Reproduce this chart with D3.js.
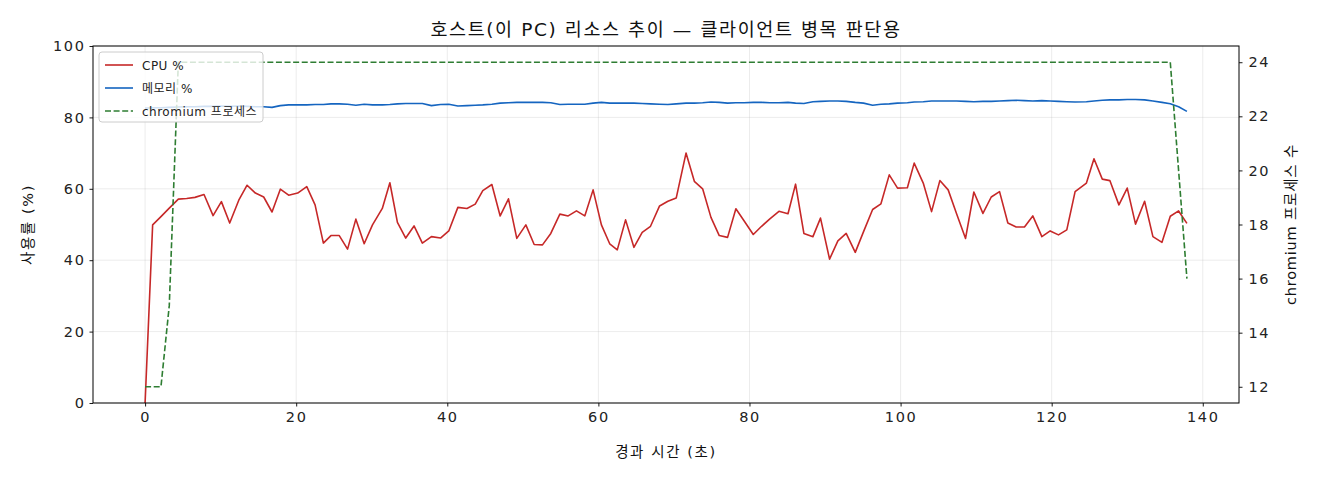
<!DOCTYPE html>
<html>
<head>
<meta charset="utf-8">
<script src="https://cdn.jsdelivr.net/npm/d3@7"></script>
<style>
  body { margin: 0; background: #fff; }
  text { font-family: "DejaVu Sans", "Noto Sans CJK KR", sans-serif; }
</style>
</head>
<body>
<script>
// elapsed seconds for each sample
const seconds = [
  0, 1.0, 2.1, 3.2, 4.4, 5.5, 6.6, 7.8, 9.0, 10.1,
  11.2, 12.4, 13.5, 14.6, 15.7, 16.8, 17.9, 19.0, 20.2, 21.4,
  22.5, 23.6, 24.6, 25.7, 26.8, 27.9, 29.0, 30.1, 31.4, 32.4,
  33.4, 34.5, 35.6, 36.7, 37.9, 39.1, 40.2, 41.4, 42.6, 43.7,
  44.7, 45.9, 47.0, 48.1, 49.2, 50.4, 51.5, 52.6, 53.7, 54.9,
  56.0, 57.1, 58.2, 59.3, 60.4, 61.5, 62.5, 63.6, 64.7, 65.8,
  66.9, 68.1, 69.2, 70.3, 71.6, 72.7, 73.8, 74.9, 76.0, 77.1,
  78.2, 79.3, 80.5, 81.6, 82.7, 83.9, 85.1, 86.1, 87.2, 88.4,
  89.4, 90.6, 91.7, 92.8, 94.0, 95.1, 96.3, 97.4, 98.5, 99.6,
  100.9, 101.8, 103.0, 104.1, 105.2, 106.3, 107.4, 108.6, 109.7, 110.9,
  112.0, 113.1, 114.2, 115.3, 116.4, 117.5, 118.7, 119.8, 120.9, 122.0,
  123.1, 124.6, 125.6, 126.7, 127.7, 128.9, 130.0, 131.1, 132.3, 133.4,
  134.6, 135.7, 136.8, 137.9
];

const cpuPct = [
  0, 49.9, 52.2, 54.6, 57.1, 57.3, 57.6, 58.4, 52.5, 56.4,
  50.4, 56.8, 61.0, 58.8, 57.7, 53.5, 59.9, 58.2, 58.8, 60.6,
  55.5, 44.8, 46.9, 46.9, 43.1, 51.5, 44.6, 49.9, 54.5, 61.7,
  50.6, 46.2, 49.6, 44.8, 46.6, 46.2, 48.2, 54.8, 54.5, 55.7,
  59.5, 61.2, 52.4, 57.2, 46.1, 49.9, 44.4, 44.3, 47.5, 52.9,
  52.4, 53.8, 52.4, 59.7, 49.9, 44.6, 42.9, 51.3, 43.6, 47.8,
  49.5, 55.2, 56.5, 57.4, 70.0, 62.1, 60.0, 52.0, 46.9, 46.4,
  54.4, 51.0, 47.2, 49.5, 51.6, 53.7, 53.0, 61.3, 47.5, 46.6,
  51.8, 40.3, 45.4, 47.5, 42.2, 48.0, 54.2, 55.8, 63.9, 60.2,
  60.3, 67.2, 61.6, 53.6, 62.3, 59.7, 53.1, 46.1, 59.1, 53.1,
  57.7, 59.2, 50.4, 49.3, 49.3, 52.4, 46.6, 48.2, 47.1, 48.5,
  59.2, 61.6, 68.4, 62.7, 62.3, 55.5, 60.2, 50.1, 56.5, 46.6,
  45.0, 52.3, 53.8, 50.3
];

const memPct = [
  82.6, 82.7, 82.7, 82.8, 82.9, 83.0, 83.0, 83.1, 83.1, 83.2,
  83.1, 83.2, 83.1, 83.0, 83.0, 82.8, 83.3, 83.5, 83.5, 83.5,
  83.6, 83.6, 83.8, 83.8, 83.7, 83.4, 83.7, 83.5, 83.5, 83.6,
  83.8, 83.9, 83.9, 83.9, 83.3, 83.6, 83.7, 83.2, 83.3, 83.4,
  83.5, 83.7, 84.0, 84.1, 84.2, 84.2, 84.2, 84.2, 84.1, 83.6,
  83.7, 83.7, 83.7, 84.0, 84.2, 84.0, 84.0, 84.0, 84.0, 83.9,
  83.8, 83.7, 83.6, 83.8, 84.0, 84.0, 84.1, 84.3, 84.2, 84.0,
  84.1, 84.1, 84.2, 84.2, 84.1, 84.1, 84.2, 84.0, 83.9, 84.4,
  84.5, 84.6, 84.6, 84.5, 84.2, 84.0, 83.4, 83.7, 83.8, 84.0,
  84.1, 84.3, 84.4, 84.6, 84.6, 84.6, 84.6, 84.5, 84.4, 84.5,
  84.5, 84.6, 84.7, 84.8, 84.7, 84.6, 84.7, 84.6, 84.5, 84.4,
  84.3, 84.4, 84.6, 84.8, 84.9, 84.9, 85.0, 85.0, 84.9, 84.6,
  84.2, 83.8, 83.0, 81.7
];

const chromiumProcs = [
  12, 12, 12, 15, 24, 24, 24, 24, 24, 24,
  24, 24, 24, 24, 24, 24, 24, 24, 24, 24,
  24, 24, 24, 24, 24, 24, 24, 24, 24, 24,
  24, 24, 24, 24, 24, 24, 24, 24, 24, 24,
  24, 24, 24, 24, 24, 24, 24, 24, 24, 24,
  24, 24, 24, 24, 24, 24, 24, 24, 24, 24,
  24, 24, 24, 24, 24, 24, 24, 24, 24, 24,
  24, 24, 24, 24, 24, 24, 24, 24, 24, 24,
  24, 24, 24, 24, 24, 24, 24, 24, 24, 24,
  24, 24, 24, 24, 24, 24, 24, 24, 24, 24,
  24, 24, 24, 24, 24, 24, 24, 24, 24, 24,
  24, 24, 24, 24, 24, 24, 24, 24, 24, 24,
  24, 24, 20, 16
];

const xTicks = [0, 20, 40, 60, 80, 100, 120, 140];
const yTicks = [0, 20, 40, 60, 80, 100];
const y2Ticks = [12, 14, 16, 18, 20, 22, 24];

const seriesNames = ['CPU %', '메모리 %', 'chromium 프로세스'];

const width = 1320;
const height = 480;
const plot = { left: 93, right: 1239, top: 46, bottom: 403 };

const svg = d3.select('body')
  .append('svg')
  .attr('width', width)
  .attr('height', height);

// matplotlib-style 5% padding around the time range
const tMax = d3.max(seconds);
const pad = tMax * 0.05;
const x = d3.scaleLinear().domain([-pad, tMax + pad]).range([plot.left, plot.right]);
const y = d3.scaleLinear().domain([0, 100]).range([plot.bottom, plot.top]);
const pMin = d3.min(chromiumProcs), pMax = d3.max(chromiumProcs);
const pPad = (pMax - pMin) * 0.05;
const y2 = d3.scaleLinear().domain([pMin - pPad, pMax + pPad]).range([plot.bottom, plot.top]);

// grid
const grid = svg.append('g').attr('stroke', '#b0b0b0').attr('stroke-opacity', 0.3).attr('stroke-width', 0.8);
grid.selectAll('.gx').data(xTicks).enter().append('line')
  .attr('x1', d => x(d)).attr('x2', d => x(d))
  .attr('y1', plot.top).attr('y2', plot.bottom);
grid.selectAll('.gy').data(yTicks).enter().append('line')
  .attr('x1', plot.left).attr('x2', plot.right)
  .attr('y1', d => y(d)).attr('y2', d => y(d));

// lines
const rows = seconds.map((t, i) => ({ t, cpu: cpuPct[i], mem: memPct[i], proc: chromiumProcs[i] }));

svg.append('path')
  .datum(rows)
  .attr('fill', 'none')
  .attr('stroke', '#c62828')
  .attr('stroke-width', 1.6)
  .attr('stroke-linejoin', 'round')
  .attr('d', d3.line().x(d => x(d.t)).y(d => y(d.cpu)));

svg.append('path')
  .datum(rows)
  .attr('fill', 'none')
  .attr('stroke', '#1565c0')
  .attr('stroke-width', 1.6)
  .attr('stroke-linejoin', 'round')
  .attr('d', d3.line().x(d => x(d.t)).y(d => y(d.mem)));

svg.append('path')
  .datum(rows)
  .attr('fill', 'none')
  .attr('stroke', '#2e7d32')
  .attr('stroke-width', 1.6)
  .attr('stroke-dasharray', '6,2.6')
  .attr('d', d3.line().x(d => x(d.t)).y(d => y2(d.proc)));

// axes
const fmt = d3.format('d');
const xAxis = svg.append('g')
  .attr('transform', `translate(0,${plot.bottom})`)
  .call(d3.axisBottom(x).tickValues(xTicks).tickFormat(fmt).tickSizeInner(3.5).tickSizeOuter(0).tickPadding(5));
const yAxis = svg.append('g')
  .attr('transform', `translate(${plot.left},0)`)
  .call(d3.axisLeft(y).tickValues(yTicks).tickFormat(fmt).tickSizeInner(3.5).tickSizeOuter(0).tickPadding(4));
const y2Axis = svg.append('g')
  .attr('transform', `translate(${plot.right},0)`)
  .call(d3.axisRight(y2).tickValues(y2Ticks).tickFormat(fmt).tickSizeInner(3.5).tickSizeOuter(0).tickPadding(6));

[xAxis, yAxis, y2Axis].forEach(g => {
  g.select('.domain').remove();
  g.selectAll('.tick line').attr('stroke', '#000').attr('stroke-width', 0.9);
  g.selectAll('.tick text')
    .attr('fill', '#222')
    .style('font-size', '14.5px')
    .style('letter-spacing', '1.6px');
});

// frame
svg.append('rect')
  .attr('x', plot.left).attr('y', plot.top)
  .attr('width', plot.right - plot.left).attr('height', plot.bottom - plot.top)
  .attr('fill', 'none').attr('stroke', '#000').attr('stroke-width', 1);

// titles
svg.append('text')
  .attr('x', (plot.left + plot.right) / 2).attr('y', 36)
  .attr('text-anchor', 'middle')
  .style('font-size', '18.5px').style('letter-spacing', '1.6px').attr('fill', '#111')
  .text('호스트(이 PC) 리소스 추이 — 클라이언트 병목 판단용');

svg.append('text')
  .attr('x', (plot.left + plot.right) / 2).attr('y', 457)
  .attr('text-anchor', 'middle')
  .style('font-size', '14.5px').style('letter-spacing', '1.6px').attr('fill', '#111')
  .text('경과 시간 (초)');

svg.append('text')
  .attr('transform', `translate(33,${(plot.top + plot.bottom) / 2}) rotate(-90)`)
  .attr('text-anchor', 'middle')
  .style('font-size', '14.5px').style('letter-spacing', '1.6px').attr('fill', '#111')
  .text('사용률 (%)');

svg.append('text')
  .attr('transform', `translate(1296,${(plot.top + plot.bottom) / 2}) rotate(-90)`)
  .attr('text-anchor', 'middle')
  .style('font-size', '14.5px').style('letter-spacing', '0.8px').attr('fill', '#111')
  .text('chromium 프로세스 수');

// legend
const legend = svg.append('g').attr('transform', 'translate(99,52)');
legend.append('rect')
  .attr('width', 164).attr('height', 70).attr('rx', 3)
  .attr('fill', '#fff').attr('fill-opacity', 0.8)
  .attr('stroke', '#ccc').attr('stroke-width', 1);

const legendStyles = [
  { color: '#c62828', dash: null },
  { color: '#1565c0', dash: null },
  { color: '#2e7d32', dash: '6,2.6' }
];

const items = legend.selectAll('.item')
  .data(seriesNames)
  .enter()
  .append('g')
  .attr('transform', (d, i) => `translate(0,${13 + i * 23})`);

items.append('line')
  .attr('x1', 6).attr('x2', 34)
  .attr('stroke', (d, i) => legendStyles[i].color)
  .attr('stroke-width', 1.6)
  .attr('stroke-dasharray', (d, i) => legendStyles[i].dash);

items.append('text')
  .attr('x', 43).attr('y', 4.5)
  .style('font-size', '12px').style('letter-spacing', '0.5px').attr('fill', '#222')
  .text(d => d);
</script>
</body>
</html>
